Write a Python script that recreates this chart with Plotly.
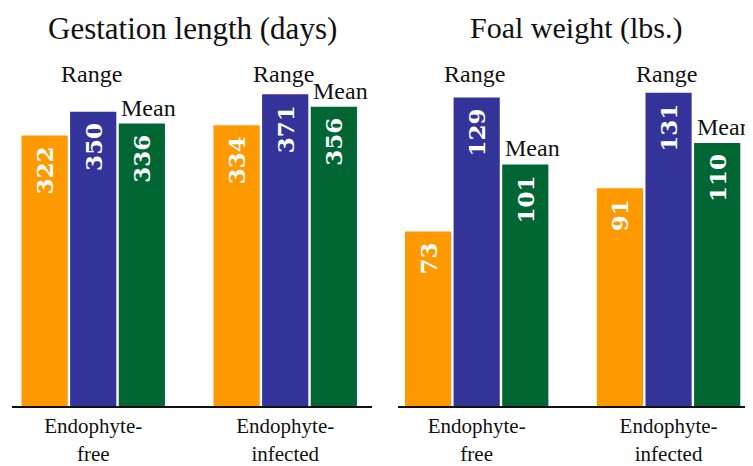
import plotly.graph_objects as go

# ---- data ----
categories = ["Endophyte-free", "Endophyte-infected"]
tick_labels = ["Endophyte-<br>free", "Endophyte-<br>infected"]

gest_low = [322, 334]
gest_high = [350, 371]
gest_mean = [336, 356]

weight_low = [73, 91]
weight_high = [129, 131]
weight_mean = [101, 110]

panel_titles = ["Gestation length (days)", "Foal weight (lbs.)"]
range_label = "Range"
mean_label = "Mean"

colors = ["#FF9900", "#333399", "#006633"]

# page has an 8px body margin, so the figure is drawn 8px in from the corner
OFF = 8
W, H = 753 - OFF, 466 - OFF
MT, MB = 40 - OFF, 58
PH = H - MT - MB

fig = go.Figure()

panels = [
    (gest_low, gest_high, gest_mean, "x", "y"),
    (weight_low, weight_high, weight_mean, "x2", "y2"),
]

for low, high, mean, xa, ya in panels:
    for vals, col in zip([low, high, mean], colors):
        fig.add_trace(go.Bar(
            x=categories, y=vals, xaxis=xa, yaxis=ya,
            marker=dict(color=col, line=dict(width=0)),
            texttemplate="%{y}\u00a0",
            textposition="inside",
            insidetextanchor="end",
            textangle=-90,
            textfont=dict(family="DejaVu Serif", size=23, color="white", weight="bold"),
            constraintext="none",
            showlegend=False,
            hoverinfo="skip",
            offsetgroup=col + xa,
        ))

serif = "Liberation Serif"
annotations = []
for (low, high, mean, xa, ya), title, tsize in zip(panels, panel_titles, [31, 30]):
    xd = ("x domain" if xa == "x" else "x2 domain")
    annotations.append(dict(
        text=title, xref=xd, x=0.5, yref="paper", y=1 + 12 / PH,
        xanchor="center", yanchor="middle", showarrow=False,
        font=dict(family=serif, size=tsize, color="#111"),
    ))
    for i in range(len(categories)):
        annotations.append(dict(
            text=range_label, xref=xa, x=i - 0.01, yref="paper", y=334 / PH,
            xanchor="center", yanchor="middle", showarrow=False,
            font=dict(family=serif, size=24, color="#111"),
        ))
        annotations.append(dict(
            text=mean_label, xref=xa, x=i + 0.29, yref=ya, y=mean[i],
            xanchor="center", yanchor="bottom", yshift=1, showarrow=False,
            font=dict(family=serif, size=24, color="#111"),
        ))

axis_common = dict(
    type="category", showline=True, linecolor="#111", linewidth=2,
    ticks="", showgrid=False, zeroline=False,
    tickvals=categories, ticktext=tick_labels,
    tickfont=dict(family=serif, size=21, color="#111"),
)

fig.update_layout(
    width=W, height=H,
    margin=dict(l=0, r=0, t=MT, b=MB),
    paper_bgcolor="white", plot_bgcolor="white",
    barmode="group", bargap=0.24, bargroupgap=0.05,
    xaxis=dict(domain=[(12 - OFF) / W, (372 - OFF) / W], range=[-0.423, 1.452], anchor="y", **axis_common),
    xaxis2=dict(domain=[(398 - OFF) / W, 1.0], range=[-0.41, 1.44], anchor="y2", **axis_common),
    yaxis=dict(range=[0, PH / 0.845], visible=False, anchor="x"),
    yaxis2=dict(range=[0, PH / 2.405], visible=False, anchor="x2"),
    annotations=annotations,
)

fig.write_html("out.html")
